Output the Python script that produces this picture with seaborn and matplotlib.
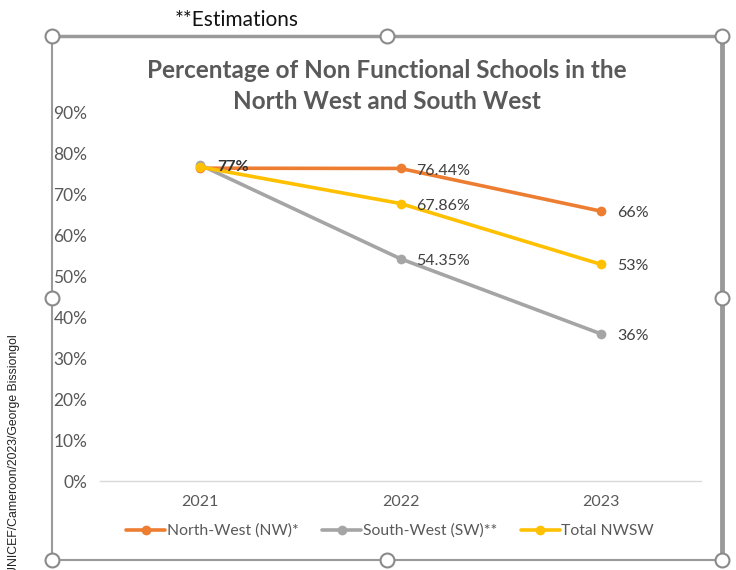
import pandas as pd
import matplotlib.pyplot as plt
import seaborn as sns
from matplotlib.lines import Line2D

# chart data
years = ["2021", "2022", "2023"]
series_names = ["North-West (NW)*", "South-West (SW)**", "Total NWSW"]
nw_values = [76.5, 76.44, 66.0]
sw_values = [77.3, 54.35, 36.0]
total_values = [76.8, 67.86, 53.0]
# the three 2021 labels sit on top of each other in the original, shown as one
nw_labels = ["77%", "76.44%", "66%"]
sw_labels = ["", "54.35%", "36%"]
total_labels = ["", "67.86%", "53%"]
y_ticks = [0, 10, 20, 30, 40, 50, 60, 70, 80, 90]

colors = {"North-West (NW)*": "#ED7D31",
          "South-West (SW)**": "#A5A5A5",
          "Total NWSW": "#FFC000"}

df = pd.DataFrame({
    "year": years * 3,
    "series": [s for s in series_names for _ in years],
    "value": nw_values + sw_values + total_values,
})
labels = {series_names[0]: nw_labels,
          series_names[1]: sw_labels,
          series_names[2]: total_labels}

sns.set_style("white")
plt.rcParams["font.family"] = ["Lato", "DejaVu Sans"]

W, H = 736, 570
fig = plt.figure(figsize=(W / 100, H / 100), dpi=100)
ax = fig.add_axes([100 / W, 89 / H, 601 / W, 368 / H])

sns.lineplot(data=df, x="year", y="value", hue="series", palette=colors,
             hue_order=series_names, marker="o", markersize=7, linewidth=2.6,
             markeredgewidth=0, legend=False, ax=ax, sort=False)

for name in series_names:
    sub = df[df["series"] == name]
    for i, (v, t) in enumerate(zip(sub["value"], labels[name])):
        if not t:
            continue
        bold = i == 0
        ax.annotate(t, (i, v), xytext=(12.5 if bold else 11.5, 1 if bold else -1.5),
                    textcoords="offset points", ha="left", va="center",
                    fontsize=11.5, color="#333333" if bold else "#404040",
                    fontweight="bold" if bold else "normal")

ax.set_xlim(-0.5, 2.5)
ax.set_ylim(0, 90)
ax.set_yticks(y_ticks)
ax.set_yticklabels([f"{t}%" for t in y_ticks])
ax.set_xlabel("")
ax.set_ylabel("")
for side in ["top", "right", "left"]:
    ax.spines[side].set_visible(False)
ax.spines["bottom"].set_color("#D9D9D9")
ax.spines["bottom"].set_linewidth(1)
ax.tick_params(axis="both", length=0, colors="#595959")
ax.tick_params(axis="y", pad=9, labelsize=12.5)
ax.tick_params(axis="x", pad=10, labelsize=11.5)

# legend
handles = [Line2D([], [], color=colors[n], lw=2.6, marker="o", markersize=7,
                  markeredgewidth=0) for n in series_names]
fig.legend(handles, series_names, loc="center", bbox_to_anchor=(390 / W, 1 - 531 / H),
           ncol=3, frameon=False, fontsize=11.3, labelcolor="#595959",
           handlelength=2.5, handletextpad=0.1, columnspacing=1.5)

# title
fig.text(387 / W, 1 - 86 / H, "Percentage of Non Functional Schools in the\nNorth West and South West",
         ha="center", va="center", fontsize=17.5, fontweight="bold", color="#595959",
         linespacing=1.4)

fig.text(237 / W, 1 - 20 / H, "**Estimations", ha="center", va="center",
         fontsize=15, color="#111111")

fig.text(14 / W, -0.008, "UNICEF/Cameroon/2023/George Bissiongol", rotation=90,
         ha="center", va="bottom", fontsize=8.8, color="#222222",
         family=["Liberation Sans", "DejaVu Sans"])

# selection frame with handles
def fx(px):
    return px / W

def fy(py):
    return 1 - py / H

frame_col = "#9A9A9A"
fig.add_artist(Line2D([fx(52), fx(722)], [fy(36), fy(36)], color=frame_col, lw=2.5))
fig.add_artist(Line2D([fx(52), fx(52)], [fy(36), fy(560)], color=frame_col, lw=1.5))
fig.add_artist(Line2D([fx(52), fx(722)], [fy(560), fy(560)], color=frame_col, lw=1.5))
fig.add_artist(Line2D([fx(722), fx(722)], [fy(36), fy(560)], color=frame_col, lw=3.5))
hx = [52, 387, 722, 52, 722, 52, 387, 722]
hy = [36, 36, 36, 298, 298, 560, 560, 560]
fig.add_artist(Line2D([fx(v) for v in hx], [fy(v) for v in hy], ls="none",
                      marker="o", markersize=10, markerfacecolor="white",
                      markeredgecolor="#8A8A8A", markeredgewidth=1.5))

fig.savefig("out.png", dpi=100)
